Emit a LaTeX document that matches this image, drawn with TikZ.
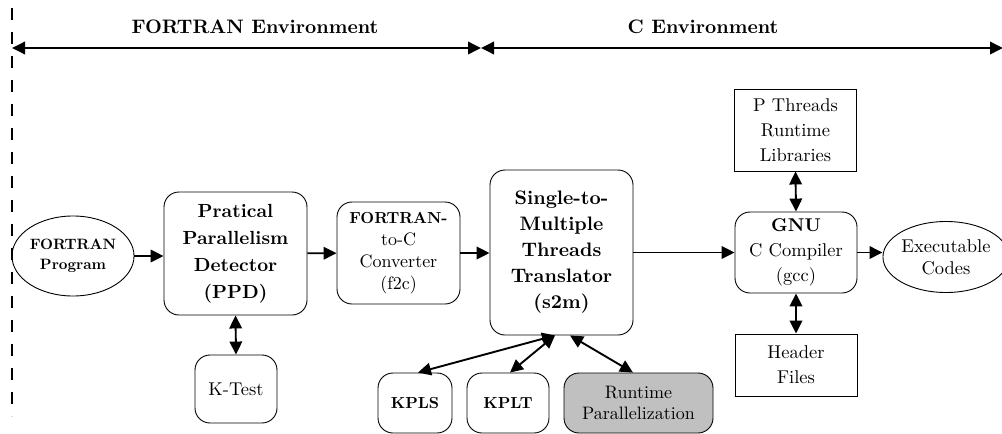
\documentclass[tikz,border=0pt]{standalone}
\usepackage{fontspec}
\setmainfont{lmroman10-regular.otf}[BoldFont=lmroman10-bold.otf]
\usetikzlibrary{arrows.meta,shapes.geometric}
\begin{document}
\begin{tikzpicture}[x=1pt,y=-1pt,
  rbox/.style={draw,line width=0.9pt,rounded corners=15pt,align=center,inner sep=0pt},
  sbox/.style={draw,line width=0.9pt,align=center,inner sep=0pt},
  ell/.style={draw,line width=0.9pt,ellipse,align=center,inner sep=0pt},
  arr/.style={line width=1.9pt,-{Triangle[length=13pt,width=12.5pt]}},
  darr/.style={line width=1.9pt,{Triangle[length=13pt,width=12.5pt]}-{Triangle[length=13pt,width=12.5pt]}},
  rg/.style={font=\fontsize{18.5}{25}\selectfont},
  bg/.style={font=\fontsize{19}{27}\selectfont\bfseries}]
\useasboundingbox (0,0) rectangle (1002,434);
% environment markers
\draw[line width=1.8pt,dash pattern=on 12pt off 12pt,dash phase=16pt] (12,0) -- (12,416);
\coordinate (lft) at (12,48);
\coordinate (mid) at (481,48);
\coordinate (rgt) at (1003,48);
\draw[darr] (lft) -- (mid);
\draw[darr] (mid) -- (rgt);
\node[font=\fontsize{19.5}{24}\selectfont\bfseries] (fenv) at (255,27) {FORTRAN Environment};
\node[font=\fontsize{19.5}{24}\selectfont\bfseries] (cenv) at (703,27) {C Environment};
% main row
\node[ell,minimum width=122pt,minimum height=80pt,font=\fontsize{15}{20}\selectfont\bfseries] (fp) at (73,256) {FORTRAN\\Program};
\node[rbox,minimum width=143pt,minimum height=123pt,bg] (ppd) at (235.5,253.5) {Pratical\\Parallelism\\Detector\\(PPD)};
\node[rbox,minimum width=123pt,minimum height=102pt,font=\fontsize{18}{22}\selectfont] (f2c) at (398.5,253) {\fontsize{16}{22}\selectfont\bfseries FORTRAN-\\to-C\\Converter\\(f2c)};
\node[rbox,minimum width=143pt,minimum height=165pt,font=\fontsize{19.5}{26}\selectfont\bfseries] (s2m) at (561.5,252.5) {Single-to-\\Multiple\\Threads\\Translator\\(s2m)};
\node[rbox,minimum width=122pt,minimum height=81pt,rg] (gcc) at (796,252.5) {\textbf{GNU}\\C Compiler\\(gcc)};
\node[ell,minimum width=118pt,minimum height=71pt,font=\fontsize{18.5}{22}\selectfont] (exe) at (946,257) {Executable\\Codes};
% satellites
\node[rbox,minimum width=82pt,minimum height=68pt,font=\fontsize{18.5}{24}\selectfont] (kt) at (236,389) {K-Test};
\node[sbox,minimum width=122pt,minimum height=82pt,rg] (pth) at (795.5,130) {P Threads\\Runtime\\Libraries};
\node[sbox,minimum width=122pt,minimum height=62pt,rg] (hdr) at (796,365) {Header\\Files};
\node[rbox,minimum width=74pt,minimum height=60pt,font=\fontsize{16}{20}\selectfont\bfseries] (kpls) at (415,403) {KPLS};
\node[rbox,minimum width=82pt,minimum height=60pt,font=\fontsize{16}{20}\selectfont\bfseries] (kplt) at (508,403) {KPLT};
\node[rbox,minimum width=149pt,minimum height=60pt,fill={rgb,255:red,192;green,192;blue,192},font=\fontsize{18}{21}\selectfont] (rp) at (638.5,403) {Runtime\\Parallelization};
% connectors
\draw[arr] (fp.east) -- (fp.east -| ppd.west);
\draw[arr] (ppd) -- (f2c);
\draw[arr] (f2c) -- (f2c -| s2m.west);
\draw[arr] (s2m.east |- gcc) -- (gcc);
\draw[arr] (gcc) -- (gcc -| exe.west);
\draw[darr] (ppd.south) -- (kt.north);
\draw[darr] (pth.south) -- (gcc.north);
\draw[darr] (gcc.south) -- (hdr.north);
\draw[darr] ([xshift=-6.5pt]s2m.south) -- ([xshift=3pt]kpls.north);
\draw[darr] ([xshift=-6.5pt]s2m.south) -- ([xshift=2pt]kplt.north);
\draw[darr] ([xshift=8.5pt]s2m.south) -- ([xshift=-5.5pt]rp.north);
\end{tikzpicture}
\end{document}
